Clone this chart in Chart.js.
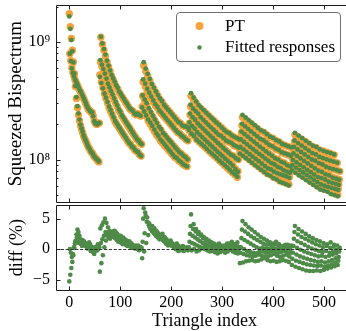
<!DOCTYPE html>
<html>
<head>
<meta charset="utf-8">
<script src="https://cdn.jsdelivr.net/npm/chart.js@4.4.1/dist/chart.umd.min.js"></script>
<style>
  html, body { margin:0; padding:0; background:#fff; }
  body { width:346px; height:331px; overflow:hidden; position:relative; }
  canvas { position:absolute; left:0; }
</style>
</head>
<body>
<canvas id="topPanel" width="360" height="206" style="top:0px"></canvas>
<canvas id="botPanel" width="360" height="128" style="top:203px"></canvas>
<script>
// ---------- data ----------
// PT squeezed bispectrum, log10 values; each group holds interleaved sub-curves
const ptLog10G1 = [
  [9.24,9.13,9.03,8.93,8.83,8.73,8.62,8.52,8.44,8.38,8.33,8.29,8.26,8.23,8.20,8.18,8.16,8.14,8.12,8.10,8.09,8.07,8.06,8.05,8.03,8.02,8.01,8.00,7.99,7.98],
  [8.90,8.84,8.78,8.74,8.71,8.68,8.66,8.64,8.62,8.60,8.58,8.57,8.55,8.53,8.51,8.49,8.47,8.45,8.43,8.42,8.41,8.40,8.40,8.37,8.33,8.31,8.30,8.30,8.31,8.31]
];
const ptLog10G2 = [
  [8.72,8.66,8.61,8.56,8.52,8.48,8.44,8.41,8.38,8.35,8.32,8.30,8.28,8.26,8.24,8.22,8.20,8.18,8.16,8.14,8.13,8.11,8.10,8.08,8.07,8.06,8.04,8.03],
  [8.83,8.79,8.75,8.71,8.67,8.63,8.60,8.57,8.54,8.51,8.48,8.45,8.42,8.40,8.37,8.35,8.33,8.31,8.29,8.27,8.25,8.23,8.21,8.19,8.17,8.16,8.14,8.13],
  [9.04,8.98,8.93,8.88,8.83,8.79,8.75,8.71,8.68,8.65,8.62,8.60,8.57,8.55,8.53,8.51,8.49,8.47,8.45,8.43,8.42,8.41,8.39,8.38,8.39,8.38,8.37]
];
const ptLog10G3 = [
  [8.45,8.41,8.37,8.33,8.30,8.27,8.24,8.21,8.19,8.16,8.14,8.12,8.10,8.08,8.06,8.04,8.02,8.01,7.99,7.98,7.96,7.95,7.94],
  [8.54,8.50,8.46,8.42,8.39,8.36,8.33,8.30,8.27,8.25,8.22,8.20,8.18,8.16,8.14,8.12,8.10,8.08,8.06,8.05,8.03,8.02,8.00],
  [8.66,8.62,8.58,8.55,8.52,8.49,8.46,8.44,8.41,8.39,8.37,8.35,8.33,8.31,8.29,8.27,8.25,8.23,8.22,8.20,8.19,8.17,8.16],
  [8.80,8.75,8.71,8.67,8.63,8.60,8.57,8.54,8.51,8.49,8.46,8.44,8.42,8.40,8.38,8.36,8.34,8.32,8.31,8.29,8.28,8.28,8.27]
];
const ptLog10G4 = [
  [8.25,8.22,8.20,8.17,8.15,8.13,8.11,8.09,8.07,8.05,8.03,8.01,7.99,7.97,7.95,7.93,7.91,7.89,7.87,7.85],
  [8.31,8.28,8.26,8.23,8.21,8.19,8.17,8.15,8.13,8.11,8.09,8.07,8.05,8.03,8.01,7.99,7.97,7.95,7.92,7.90],
  [8.38,8.35,8.33,8.30,8.28,8.26,8.24,8.22,8.20,8.18,8.16,8.14,8.12,8.10,8.08,8.06,8.04,8.03,8.01,8.00],
  [8.45,8.42,8.40,8.38,8.35,8.33,8.31,8.29,8.27,8.25,8.23,8.21,8.20,8.18,8.16,8.15,8.14,8.12,8.11,8.10],
  [8.54,8.51,8.48,8.45,8.43,8.41,8.39,8.37,8.35,8.33,8.31,8.29,8.27,8.25,8.23,8.22,8.20,8.19,8.18,8.17]
];
const ptLog10G5 = [
  [8.06,8.04,8.02,8.00,7.98,7.96,7.94,7.92,7.90,7.88,7.87,7.85,7.84,7.82,7.81,7.80,7.79],
  [8.11,8.09,8.07,8.05,8.03,8.01,7.99,7.97,7.95,7.93,7.92,7.90,7.89,7.88,7.87,7.86,7.85],
  [8.17,8.15,8.13,8.11,8.09,8.07,8.05,8.03,8.01,7.99,7.97,7.96,7.94,7.93,7.91,7.90,7.89],
  [8.23,8.21,8.19,8.17,8.15,8.13,8.11,8.09,8.07,8.05,8.03,8.01,8.00,7.98,7.97,7.95,7.94],
  [8.29,8.27,8.25,8.23,8.21,8.19,8.17,8.16,8.14,8.12,8.11,8.09,8.08,8.06,8.05,8.04,8.03],
  [8.36,8.34,8.32,8.30,8.28,8.26,8.24,8.23,8.21,8.19,8.18,8.16,8.15,8.13,8.12,8.11,8.10]
];
const ptLog10G6 = [
  [7.92,7.90,7.88,7.86,7.84,7.82,7.80,7.78,7.76,7.75,7.74,7.72,7.71,7.70],
  [7.96,7.94,7.92,7.90,7.88,7.86,7.84,7.82,7.80,7.79,7.78,7.77,7.76,7.75],
  [8.00,7.98,7.96,7.94,7.92,7.90,7.88,7.86,7.85,7.84,7.82,7.81,7.80,7.79],
  [8.05,8.03,8.01,7.99,7.97,7.95,7.93,7.91,7.90,7.88,7.87,7.85,7.84,7.83],
  [8.10,8.08,8.06,8.04,8.02,8.00,7.99,7.97,7.96,7.94,7.93,7.92,7.91,7.90],
  [8.15,8.13,8.11,8.09,8.07,8.05,8.04,8.02,8.01,8.00,7.99,7.98,7.97],
  [8.21,8.19,8.17,8.15,8.13,8.11,8.10,8.08,8.07,8.06,8.05,8.04]
];
// relative difference of the fitted responses (%), same layout as above
const diffG1 = [
  [-5.3,-4.2,-3.1,-2.1,-1.0,0.2,1.3,2.4,3.2,2.8,2.2,1.6,1.2,1.5,1.0,0.6,0.9,0.4,0.1,0.5,0.2,-0.3,0.1,-0.4,-0.2,0.3,-0.1,0.4,0.8,0.6],
  [0.0,-0.6,-1.3,-0.8,0.3,0.9,1.4,1.9,1.5,1.0,1.2,0.8,0.5,0.9,1.3,1.0,0.6,0.3,0.7,1.1,0.8,0.4,0.0,-0.5,-0.8,-0.3,0.2,-0.2,0.0,0.3]
];
const diffG2 = [
  [-3.7,-2.3,-1.0,0.3,1.4,2.2,2.8,2.6,2.3,2.0,1.8,1.5,1.2,1.4,1.0,0.8,1.1,0.7,0.5,0.8,0.4,0.2,0.5,0.1,0.3,0.6,0.2,0.0],
  [3.4,3.9,4.4,5.0,4.3,3.6,3.0,2.6,2.9,2.4,2.1,2.5,2.2,1.8,1.5,1.9,1.6,1.2,1.0,1.3,0.9,0.7,0.4,0.6,0.3,0.1,0.4,0.2],
  [1.0,1.6,2.2,2.8,2.4,2.0,1.7,2.1,2.6,3.0,2.7,2.3,1.9,2.2,1.8,1.5,1.2,1.4,1.0,0.7,0.9,0.5,0.2,0.4,0.0,-0.2,0.1]
];
const diffG3 = [
  [-1.5,-0.4,1.0,2.3,3.3,3.8,3.4,3.0,2.6,2.2,2.5,2.0,1.6,1.2,1.4,0.9,0.6,0.9,0.5,0.2,0.5,0.1,0.3],
  [1.2,2.6,4.5,3.9,3.3,2.9,2.5,2.8,2.3,1.9,1.5,1.8,1.3,0.9,1.1,0.7,0.4,0.7,0.3,0.0,0.3,-0.1,0.2],
  [5.0,6.0,5.2,4.2,3.5,2.9,2.4,2.0,1.6,1.9,1.4,1.0,0.7,1.0,0.6,0.3,0.0,0.3,-0.2,0.1,-0.3,0.0,-0.2],
  [6.7,5.5,4.4,3.6,3.0,2.6,2.2,1.9,2.2,1.7,1.3,0.9,0.6,0.8,0.5,0.2,0.0,-0.3,0.1,-0.2,0.2,-0.1,0.1]
];
const diffG4 = [
  [0.3,-0.2,0.0,-0.4,-0.2,0.1,0.3,0.0,-0.3,0.1,0.4,0.2,-0.1,0.3,0.6,0.9,0.7,0.4,0.8,1.1],
  [1.2,1.0,0.8,0.6,0.4,0.2,0.0,-0.2,-0.4,-0.3,-0.5,-0.7,-0.5,-0.3,-0.6,-0.4,-0.1,-0.4,-0.6,-0.7],
  [2.5,2.2,1.9,1.6,1.3,1.0,0.8,0.6,0.4,0.2,0.0,-0.2,0.0,-0.3,-0.1,0.2,0.4,0.1,-0.2,-0.4],
  [3.8,3.3,2.9,2.5,2.2,1.8,1.5,1.2,1.0,0.8,0.5,0.3,0.1,0.3,0.0,0.2,0.5,0.8,0.6,0.2],
  [5.7,4.1,3.3,2.8,2.4,2.0,1.7,1.4,1.1,0.9,0.7,0.9,0.6,0.4,0.6,0.9,1.2,0.8,0.5,0.3]
];
const diffG5 = [
  [-2.3,-2.2,-2.0,-1.9,-1.8,-2.0,-1.9,-1.7,-1.5,-1.8,-2.0,-1.9,-2.1,-2.0,-1.8,-1.9,-2.1],
  [-0.6,-0.8,-1.0,-1.1,-1.2,-1.1,-0.9,-1.1,-1.3,-1.2,-1.0,-0.8,-1.1,-1.3,-1.1,-0.9,-1.2],
  [0.3,0.0,-0.3,-0.5,-0.6,-0.7,-0.5,-0.4,-0.6,-0.5,-0.3,-0.5,-0.7,-0.5,-0.3,-0.5,-0.6],
  [1.8,1.5,1.2,0.9,0.6,0.3,0.1,0.2,0.0,0.1,0.3,0.1,-0.1,0.1,0.3,0.1,0.0],
  [3.2,2.9,2.5,2.1,1.8,1.5,1.2,0.9,0.7,0.8,0.6,0.8,0.5,0.3,0.5,0.7,0.5],
  [4.6,4.1,3.6,3.2,2.8,2.4,2.0,1.7,1.4,1.1,0.9,1.2,0.8,0.5,0.7,0.4,0.6]
];
const diffG6 = [
  [-2.6,-2.9,-3.1,-3.3,-3.5,-3.6,-3.6,-3.5,-3.6,-3.4,-3.2,-3.0,-2.8,-2.6],
  [-1.6,-1.9,-2.1,-2.3,-2.5,-2.6,-2.7,-2.8,-2.7,-2.9,-2.7,-2.5,-2.2,-1.9],
  [-0.6,-0.9,-1.2,-1.4,-1.6,-1.8,-1.9,-2.1,-2.0,-2.2,-2.0,-1.8,-1.5,-1.3],
  [0.5,0.2,-0.1,-0.4,-0.6,-0.8,-1.0,-1.2,-1.1,-1.3,-1.1,-0.9,-0.7,-0.4],
  [1.7,1.3,1.0,0.7,0.4,0.1,-0.1,-0.3,-0.5,-0.3,-0.6,-0.4,-0.1,0.2],
  [2.8,2.4,2.0,1.7,1.4,1.1,0.8,0.6,0.3,0.5,0.2,0.4,0.6],
  [3.8,3.3,2.9,2.5,2.1,1.8,1.5,1.3,1.0,0.8,1.1,0.7]
];
const xTickValues = [0, 100, 200, 300, 400, 500];
const bispTickValues = [1e8, 1e9];
const diffTickValues = [-5, 0, 5];
const seriesLabels = ['PT', 'Fitted responses'];

// ---------- build point tables ----------
const ptGroups = [ptLog10G1, ptLog10G2, ptLog10G3, ptLog10G4, ptLog10G5, ptLog10G6];
const diffGroups = [diffG1, diffG2, diffG3, diffG4, diffG5, diffG6];
const ptPoints = [], fitPoints = [], diffPoints = [];
let tri = 0;
ptGroups.forEach((grp, g) => {
  const dg = diffGroups[g];
  const maxLen = Math.max(...grp.map(c => c.length));
  for (let p = 0; p < maxLen; p++) {
    for (let c = 0; c < grp.length; c++) {
      if (p < grp[c].length) {
        const pt = Math.pow(10, grp[c][p]);
        const d = dg[c][p];
        ptPoints.push({x: tri, y: pt});
        fitPoints.push({x: tri, y: pt * (1 + d / 100)});
        diffPoints.push({x: tri, y: d});
        tri++;
      }
    }
  }
});

// minor log tick positions
const bispMinor = [];
[1e7, 1e8, 1e9].forEach(dec => { for (let m = 2; m <= 9; m++) bispMinor.push(m * dec); });

const ORANGE = '#f4a23a';
const GREEN = '#4f8b48';
const SERIF = "'Liberation Serif', 'DejaVu Serif', serif";
const AXIS = '#1e1e1e';

function fixBox(s, w, h) {
  if (w !== undefined) s.width = w;
  if (h !== undefined) s.height = h;
  s.paddingTop = 0; s.paddingBottom = 0; s.paddingLeft = 0; s.paddingRight = 0;
}

const frameTicks = {
  id: 'frameTicks',
  afterDatasetsDraw(chart, args, opts) {
    const {ctx, chartArea: a, scales} = chart;
    const xs = scales.x, ys = scales.y;
    ctx.save();
    if (opts.zeroLine) {
      const y0 = Math.round(ys.getPixelForValue(0)) + 0.5;
      ctx.strokeStyle = '#222';
      ctx.lineWidth = 0.9;
      ctx.setLineDash([3.2, 1.6]);
      ctx.beginPath(); ctx.moveTo(a.left, y0); ctx.lineTo(a.right, y0); ctx.stroke();
      ctx.setLineDash([]);
    }
    ctx.strokeStyle = AXIS;
    ctx.lineWidth = 1;
    const L = Math.round(a.left) + 0.5, T = Math.round(a.top) + 0.5, B = Math.round(a.bottom) + 0.5, R = Math.round(a.right) + 0.5;
    ctx.beginPath();
    ctx.moveTo(R, T); ctx.lineTo(L, T); ctx.lineTo(L, B); ctx.lineTo(R, B); ctx.lineTo(R, T);
    ctx.stroke();
    ctx.beginPath();
    xTickValues.forEach(v => {
      const px = Math.round(xs.getPixelForValue(v)) + 0.5;
      ctx.moveTo(px, T); ctx.lineTo(px, T + 4);
      ctx.moveTo(px, B); ctx.lineTo(px, B - 4);
    });
    (opts.yMajor || []).forEach(v => {
      const py = Math.round(ys.getPixelForValue(v)) + 0.5;
      if (py < a.top || py > a.bottom) return;
      ctx.moveTo(L, py); ctx.lineTo(L + 4, py);
    });
    (opts.yMinor || []).forEach(v => {
      const py = Math.round(ys.getPixelForValue(v)) + 0.5;
      if (py < a.top + 1 || py > a.bottom - 1) return;
      ctx.moveTo(L, py); ctx.lineTo(L + 2, py);
    });
    ctx.stroke();
    ctx.restore();
  },
  afterDraw(chart, args, opts) {
    if (!opts.legend) return;
    const ctx = chart.ctx;
    ctx.save();
    ctx.beginPath();
    if (ctx.roundRect) ctx.roundRect(176.5, 12.5, 164, 49, 3.5); else ctx.rect(176.5, 12.5, 164, 49);
    ctx.fillStyle = 'rgba(255,255,255,0.85)';
    ctx.fill();
    ctx.strokeStyle = '#707070';
    ctx.lineWidth = 1;
    ctx.stroke();
    const ds = chart.data.datasets;
    ctx.fillStyle = ds[0].backgroundColor;
    ctx.beginPath(); ctx.arc(199.5, 26, 4, 0, Math.PI * 2); ctx.fill();
    ctx.fillStyle = ds[1].backgroundColor;
    ctx.beginPath(); ctx.arc(199.5, 47.5, 2.2, 0, Math.PI * 2); ctx.fill();
    ctx.fillStyle = '#000';
    ctx.font = '17px ' + SERIF;
    ctx.textBaseline = 'alphabetic';
    ctx.textAlign = 'left';
    ctx.fillText(ds[0].label, 225, 31);
    ctx.fillText(ds[1].label, 225, 52);
    ctx.restore();
  }
};

const SUP = {'0':'⁰','1':'¹','2':'²','3':'³','4':'⁴','5':'⁵','6':'⁶','7':'⁷','8':'⁸','9':'⁹'};
const xMin = -26.1, xMax = 557;

new Chart(document.getElementById('topPanel'), {
  type: 'scatter',
  data: {
    datasets: [
      {label: seriesLabels[0], data: ptPoints, backgroundColor: ORANGE, borderWidth: 0, pointRadius: 3.7, pointHoverRadius: 3.7, order: 1},
      {label: seriesLabels[1], data: fitPoints, backgroundColor: GREEN, borderWidth: 0, pointRadius: 2.4, pointHoverRadius: 2.4, order: 0}
    ]
  },
  options: {
    responsive: false, animation: false, events: [],
    layout: {padding: {top: 5, bottom: 3, left: 0, right: 7}},
    plugins: {
      legend: {display: false}, tooltip: {enabled: false},
      frameTicks: {yMajor: bispTickValues, yMinor: bispMinor, legend: true}
    },
    scales: {
      x: {type: 'linear', min: xMin, max: xMax, display: false},
      y: {
        type: 'logarithmic', min: 4.33e7, max: 2.06e9,
        afterBuildTicks: s => { s.ticks = bispTickValues.map(v => ({value: v})); },
        afterFit: s => fixBox(s, 56),
        grid: {display: false, drawTicks: false}, border: {display: false},
        ticks: {
          padding: 6, color: '#000', autoSkip: false,
          font: {family: SERIF, size: 16},
          callback: v => '10' + String(Math.round(Math.log10(v))).split('').map(ch => SUP[ch]).join('')
        },
        title: {display: true, text: 'Squeezed Bispectrum', color: '#000', font: {family: SERIF, size: 19}, padding: {top: 5, bottom: 0}}
      }
    }
  },
  plugins: [frameTicks]
});

new Chart(document.getElementById('botPanel'), {
  type: 'scatter',
  data: {
    datasets: [
      {label: 'diff', data: diffPoints, backgroundColor: GREEN, borderWidth: 0, pointRadius: 2.3, pointHoverRadius: 2.3}
    ]
  },
  options: {
    responsive: false, animation: false, events: [],
    layout: {padding: {top: 0, bottom: 0, left: 0, right: 7}},
    plugins: {
      legend: {display: false}, tooltip: {enabled: false},
      frameTicks: {yMajor: diffTickValues, yMinor: [], zeroLine: true}
    },
    scales: {
      x: {
        type: 'linear', min: xMin, max: xMax, position: 'bottom',
        afterBuildTicks: s => { s.ticks = xTickValues.map(v => ({value: v})); },
        afterFit: s => fixBox(s, undefined, 41),
        grid: {display: false, drawTicks: false}, border: {display: false},
        ticks: {padding: 3, color: '#000', autoSkip: false, maxRotation: 0, font: {family: SERIF, size: 16}, callback: v => String(v)},
        title: {display: true, text: 'Triangle index', color: '#000', font: {family: SERIF, size: 18, lineHeight: 1.1}, padding: {top: 0, bottom: 0}}
      },
      y: {
        type: 'linear', min: -6.71, max: 7.19,
        afterBuildTicks: s => { s.ticks = diffTickValues.map(v => ({value: v})); },
        afterFit: s => fixBox(s, 56),
        grid: {display: false, drawTicks: false}, border: {display: false},
        ticks: {padding: 6, color: '#000', autoSkip: false, font: {family: SERIF, size: 16}, callback: v => (v < 0 ? '\u2212' + Math.abs(v) : String(v))},
        title: {display: true, text: 'diff (%)', color: '#000', font: {family: SERIF, size: 18}, padding: {top: 6, bottom: 0}}
      }
    }
  },
  plugins: [frameTicks]
});
</script>
</body>
</html>
